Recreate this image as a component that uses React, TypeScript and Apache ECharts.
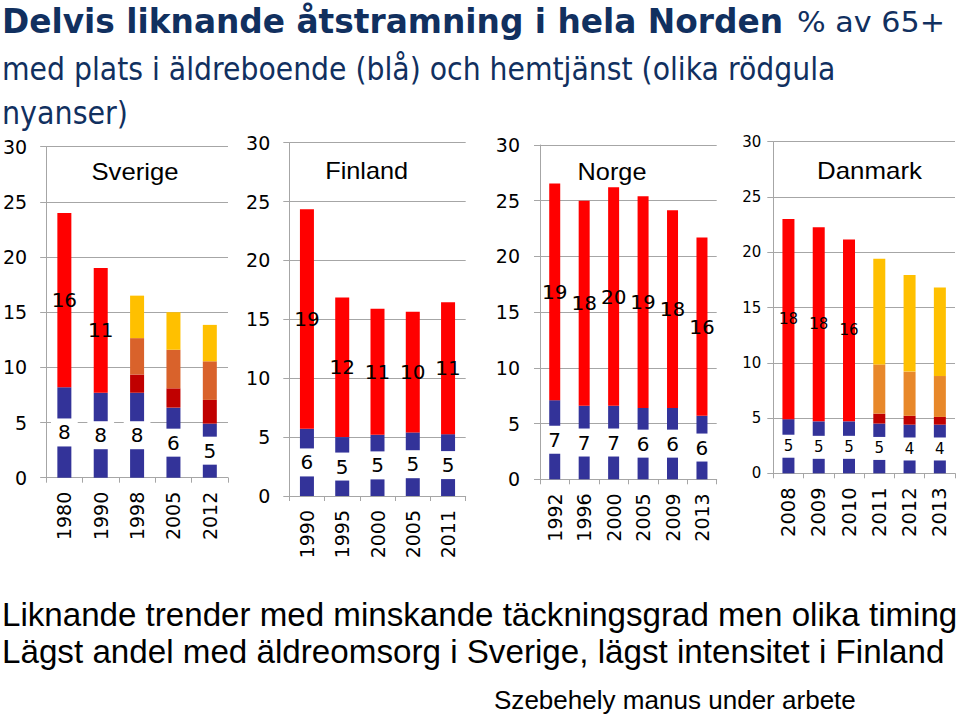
import React, { useEffect, useRef } from "react";
import * as echarts from "echarts";

// ---- Data (% av 65+) ----
const sweYears = ["1980", "1990", "1998", "2005", "2012"];
const sweBoende = [8.2, 7.7, 7.7, 6.35, 4.9];
const sweHemtjanst = [15.8, 11.3, null, null, null];
const sweHtLow = [null, null, 1.65, 1.75, 2.15];
const sweHtMid = [null, null, 3.3, 3.5, 3.5];
const sweHtHigh = [null, null, 3.85, 3.4, 3.3];

const finYears = ["1990", "1995", "2000", "2005", "2011"];
const finBoende = [5.7, 5.0, 5.2, 5.4, 5.25];
const finHemtjanst = [18.65, 11.85, 10.7, 10.25, 11.2];

const norYears = ["1992", "1996", "2000", "2005", "2009", "2013"];
const norBoende = [7.1, 6.6, 6.6, 6.4, 6.4, 5.7];
const norHemtjanst = [19.45, 18.4, 19.6, 19.0, 17.75, 16.0];

const denYears = ["2008", "2009", "2010", "2011", "2012", "2013"];
const denBoende = [4.9, 4.7, 4.7, 4.5, 4.4, 4.4];
const denHemtjanst = [18.1, 17.55, 16.45, null, null, null];
const denHtLow = [null, null, null, 0.9, 0.8, 0.7];
const denHtMid = [null, null, null, 4.45, 4.0, 3.7];
const denHtHigh = [null, null, null, 9.55, 8.75, 8.0];

const yTicks = { min: 0, max: 30, interval: 5 };

const titleBold = "Delvis liknande åtstramning i hela Norden";
const titleRest = "% av 65+";
const titleLine2 = "med plats i äldreboende (blå) och hemtjänst (olika rödgula";
const titleLine3 = "nyanser)";
const foot1 = "Liknande trender med minskande täckningsgrad men olika timing";
const foot2 = "Lägst andel med äldreomsorg i Sverige, lägst intensitet i Finland";
const foot3 = "Szebehely manus under arbete";

const VERDANA = '"DejaVu Sans", Verdana, sans-serif';
const ARIAL = '"Liberation Sans", Arial, sans-serif';
const NAVY = "#11305F";
const BLUE = "#333399";
const RED = "#FF0000";
const DARKRED = "#C00000";
const YELLOW = "#FFC000";
const GRID = "#A6A6A6";

const panels = [
  {
    name: "Sverige", years: sweYears, boende: sweBoende, hem: sweHemtjanst,
    low: sweHtLow, mid: sweHtMid, high: sweHtHigh, orange: "#D9622B",
    grid: { left: 45, top: 146.7, width: 183, height: 331 },
    barWidth: 14, fs: 20, yFs: 19, xFs: 19, yMargin: 19, pad: [4, 7],
    title: { cx: 135, cy: 172, w: 87 },
  },
  {
    name: "Finland", years: finYears, boende: finBoende, hem: finHemtjanst,
    low: null, mid: null, high: null, orange: "#D9622B",
    grid: { left: 289.3, top: 142.7, width: 176.4, height: 353.3 },
    barWidth: 14, fs: 20, yFs: 19, xFs: 19, yMargin: 19, pad: [4, 7],
    title: { cx: 366.7, cy: 171, w: 83 },
  },
  {
    name: "Norge", years: norYears, boende: norBoende, hem: norHemtjanst,
    low: null, mid: null, high: null, orange: "#D9622B",
    grid: { left: 540, top: 145, width: 176.7, height: 334.3 },
    barWidth: 11, fs: 20, yFs: 19, xFs: 19, yMargin: 20, pad: [4, 7],
    title: { cx: 612, cy: 172, w: 69 },
  },
  {
    name: "Danmark", years: denYears, boende: denBoende, hem: denHemtjanst,
    low: denHtLow, mid: denHtMid, high: denHtHigh, orange: "#E8882A",
    grid: { left: 773.3, top: 141.7, width: 181.7, height: 331.6 },
    barWidth: 12, fs: 15, yFs: 15, xFs: 19.5, yMargin: 12, pad: [4, 5],
    title: { cx: 869.5, cy: 171, w: 105 },
  },
];

function fitScale(text: string, font: string, target: number) {
  const ctx = document.createElement("canvas").getContext("2d");
  if (!ctx) return 1;
  ctx.font = font;
  const w = ctx.measureText(text).width;
  return w > 0 ? target / w : 1;
}

function textEl(text: string, x: number, y: number, size: number, family: string,
  weight: string, color: string, target: number, align = "left") {
  const sx = fitScale(text, `${weight} ${size}px ${family}`, target);
  return {
    type: "text",
    x, y, scaleX: sx, scaleY: 1,
    silent: true,
    style: {
      text, fill: color, fontSize: size, fontFamily: family, fontWeight: weight,
      textAlign: align, textVerticalAlign: "middle",
    },
  };
}

export default function App() {
  const ref = useRef<HTMLDivElement>(null);
  useEffect(() => {
    if (!ref.current) return;
    const chart = echarts.init(ref.current, null, { renderer: "svg" });
    const grids: any[] = [];
    const xAxes: any[] = [];
    const yAxes: any[] = [];
    const series: any[] = [];
    const graphic: any[] = [];

    panels.forEach((p, i) => {
      grids.push({ ...p.grid, containLabel: false });
      xAxes.push({
        gridIndex: i, type: "category", data: p.years,
        axisLine: { show: true, lineStyle: { color: GRID, width: 1 } },
        axisTick: { show: true, length: 5, lineStyle: { color: GRID } },
        axisLabel: { rotate: 90, fontSize: p.xFs, color: "#000", fontFamily: VERDANA, margin: 14 },
      });
      yAxes.push({
        gridIndex: i, type: "value", ...yTicks,
        axisLine: { show: true, lineStyle: { color: GRID, width: 1 } },
        axisTick: { show: true, length: 6, lineStyle: { color: GRID } },
        splitLine: { show: true, lineStyle: { color: GRID, width: 1 } },
        axisLabel: { fontSize: p.yFs, color: "#000", fontFamily: VERDANA, margin: p.yMargin },
      });
      const stack = "s" + i;
      const base = { type: "bar", xAxisIndex: i, yAxisIndex: i, stack, barWidth: p.barWidth };
      series.push({
        ...base, name: p.name + " äldreboende", data: p.boende,
        itemStyle: { color: BLUE },
        label: {
          show: true, position: "inside", color: "#000", fontSize: p.fs, fontFamily: VERDANA,
          backgroundColor: "#fff", padding: p.pad, lineHeight: p.fs,
          formatter: (d: any) => String(Math.round(d.value)),
        },
        z: 2,
      });
      series.push({
        ...base, name: p.name + " hemtjänst", data: p.hem,
        itemStyle: { color: RED },
        label: {
          show: true, position: "inside", color: "#000", fontSize: p.fs, fontFamily: VERDANA,
          formatter: (d: any) => String(Math.round(d.value)),
        },
      });
      if (p.low) {
        series.push({ ...base, name: p.name + " hemtjänst låg", data: p.low, itemStyle: { color: DARKRED } });
        series.push({ ...base, name: p.name + " hemtjänst mellan", data: p.mid, itemStyle: { color: p.orange } });
        series.push({ ...base, name: p.name + " hemtjänst hög", data: p.high, itemStyle: { color: YELLOW } });
      }
      graphic.push(textEl(p.name, p.title.cx, p.title.cy, 23, ARIAL, "normal", "#000", p.title.w, "center"));
    });

    graphic.push(textEl(titleBold, 2, 21.5, 33, VERDANA, "bold", NAVY, 781));
    graphic.push(textEl(titleRest, 797, 22.5, 29, VERDANA, "normal", NAVY, 148));
    graphic.push(textEl(titleLine2, 2, 69, 32, VERDANA, "normal", NAVY, 834));
    graphic.push(textEl(titleLine3, 2, 112.5, 32, VERDANA, "normal", NAVY, 126));
    graphic.push(textEl(foot1, 2, 614.5, 33, ARIAL, "normal", "#000", 956));
    graphic.push(textEl(foot2, 2, 652, 33, ARIAL, "normal", "#000", 943));
    graphic.push(textEl(foot3, 494, 700, 25, ARIAL, "normal", "#000", 362));

    chart.setOption({
      animation: false,
      backgroundColor: "#fff",
      grid: grids,
      xAxis: xAxes,
      yAxis: yAxes,
      series,
      graphic,
    });
    return () => chart.dispose();
  }, []);
  return (
    <div
      ref={ref}
      style={{ position: "fixed", left: 0, top: 0, width: 960, height: 718, background: "#fff" }}
    />
  );
}
